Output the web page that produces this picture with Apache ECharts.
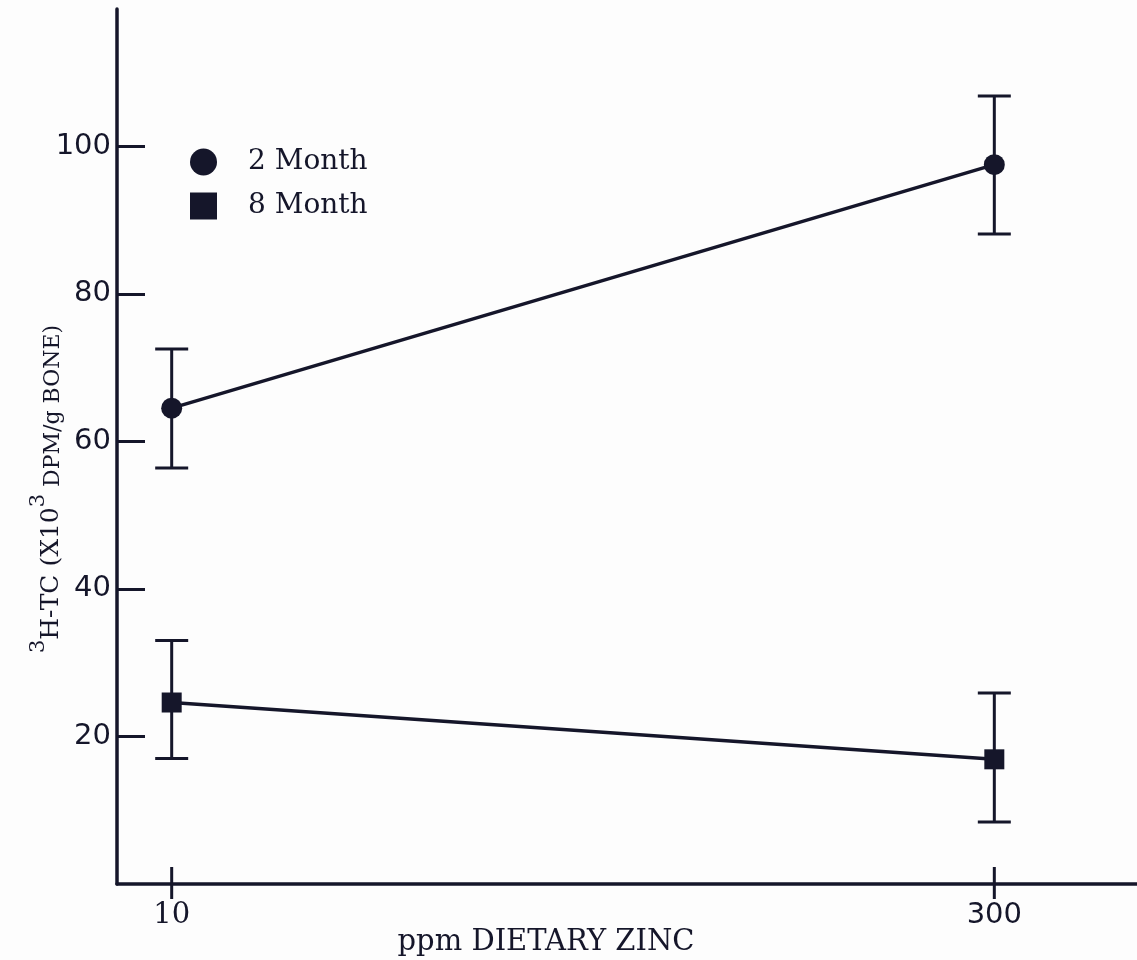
<!DOCTYPE html>
<html>
<head>
<meta charset="utf-8">
<script src="https://cdn.jsdelivr.net/npm/echarts@6/dist/echarts.min.js"></script>
<style>
html,body{margin:0;padding:0;background:#fdfdfd;}
#chart{width:1137px;height:960px;}
</style>
</head>
<body>
<div id="chart"></div>
<script>
// ---- data ----
var zincLevels = [10, 300];                 // ppm dietary zinc
var seriesNames = ['2 Month', '8 Month'];
var month2Mean = [64.5, 97.5];
var month2Low  = [56.4, 88.1];
var month2High = [72.5, 106.8];
var month8Mean = [24.6, 16.9];
var month8Low  = [17.0, 8.4];
var month8High = [33.0, 25.9];
var yTickValues = [20, 40, 60, 80, 100];
var xTickValues = [10, 300];

var ink = '#15162a';

function pairs(xs, ys) { return xs.map(function (x, i) { return [x, ys[i]]; }); }
function triples(xs, lo, hi) { return xs.map(function (x, i) { return [x, lo[i], hi[i]]; }); }

function errorBarRender(params, api) {
  var x = api.value(0), lo = api.value(1), hi = api.value(2);
  var pLo = api.coord([x, lo]), pHi = api.coord([x, hi]);
  var hw = 16.5;
  var st = { stroke: ink, lineWidth: 3 };
  return {
    type: 'group',
    children: [
      { type: 'line', shape: { x1: pHi[0], y1: pHi[1], x2: pLo[0], y2: pLo[1] }, style: st },
      { type: 'line', shape: { x1: pHi[0] - hw, y1: pHi[1], x2: pHi[0] + hw, y2: pHi[1] }, style: st },
      { type: 'line', shape: { x1: pLo[0] - hw, y1: pLo[1], x2: pLo[0] + hw, y2: pLo[1] }, style: st }
    ]
  };
}

// x-axis ticks that cross the axis line (17px above, 15px below), placed by the axis scale
function crossTickRender(params, api) {
  var p = api.coord([api.value(0), api.value(1)]);
  return {
    type: 'line',
    shape: { x1: p[0], y1: p[1] - 17, x2: p[0], y2: p[1] + 15 },
    style: { stroke: ink, lineWidth: 3 }
  };
}

var chart = echarts.init(document.getElementById('chart'), null, { renderer: 'canvas' });

var xMin = -9.28, xMax = 350.3, yMax = 118.6;

var option = {
  backgroundColor: '#fdfdfd',
  animation: false,
  grid: { left: 117, right: 0, top: 9, bottom: 76, containLabel: false, outerBoundsMode: 'none' },
  legend: {
    orient: 'vertical',
    left: 185,
    top: 143,
    itemWidth: 27,
    itemHeight: 27,
    itemGap: 16,
    selectedMode: false,
    data: [
      { name: seriesNames[0], icon: 'circle' },
      { name: seriesNames[1], icon: 'rect' }
    ],
    itemStyle: { color: ink },
    textStyle: {
      fontFamily: 'DejaVu Serif',
      fontSize: 28,
      color: ink,
      lineHeight: 27,
      padding: [0, 0, 0, 26]
    }
  },
  xAxis: {
    type: 'value',
    min: xMin,
    max: xMax,
    position: 'bottom',
    splitLine: { show: false },
    axisLine: { show: true, onZero: false, lineStyle: { color: ink, width: 3.5 } },
    axisTick: { show: false },
    axisLabel: {
      show: true,
      customValues: xTickValues,
      margin: 17,
      color: ink,
      formatter: function (v) { return v === 10 ? '{serif|' + v + '}' : '{sans|' + v + '}'; },
      rich: {
        serif: { fontFamily: 'DejaVu Serif', fontSize: 29, color: ink },
        sans: { fontFamily: 'DejaVu Sans', fontSize: 29, color: ink }
      }
    }
  },
  yAxis: {
    type: 'value',
    min: 0,
    max: yMax,
    splitLine: { show: false },
    axisLine: { show: true, onZero: false, lineStyle: { color: ink, width: 3.5 } },
    axisTick: { show: true, inside: true, length: 28, customValues: yTickValues, lineStyle: { color: ink, width: 3 } },
    axisLabel: {
      show: true,
      customValues: yTickValues,
      margin: 6,
      fontFamily: 'DejaVu Sans',
      fontSize: 29,
      color: ink
    }
  },
  series: [
    {
      name: seriesNames[0],
      type: 'line',
      data: pairs(zincLevels, month2Mean),
      symbol: 'circle',
      symbolSize: 21,
      lineStyle: { color: ink, width: 3.5 },
      itemStyle: { color: ink },
      z: 3
    },
    {
      name: seriesNames[1],
      type: 'line',
      data: pairs(zincLevels, month8Mean),
      symbol: 'rect',
      symbolSize: 20,
      lineStyle: { color: ink, width: 3.5 },
      itemStyle: { color: ink },
      z: 3
    },
    {
      name: seriesNames[0] + ' SE',
      type: 'custom',
      renderItem: errorBarRender,
      encode: { x: 0, y: [1, 2] },
      data: triples(zincLevels, month2Low, month2High),
      z: 2
    },
    {
      name: seriesNames[1] + ' SE',
      type: 'custom',
      renderItem: errorBarRender,
      encode: { x: 0, y: [1, 2] },
      data: triples(zincLevels, month8Low, month8High),
      z: 2
    },
    {
      name: 'x ticks',
      type: 'custom',
      renderItem: crossTickRender,
      encode: { x: 0, y: 1 },
      data: xTickValues.map(function (v) { return [v, 0]; }),
      silent: true,
      clip: false,
      z: 4
    }
  ],
  graphic: [
    {
      type: 'text',
      x: 46,
      y: 489,
      rotation: Math.PI / 2,
      style: {
        text: '{s|3}{m|H-TC (X10}{s|3}{t| DPM/g BONE)}',
        fill: ink,
        align: 'center',
        verticalAlign: 'middle',
        rich: {
          s: { fontFamily: 'DejaVu Serif', fontSize: 21, lineHeight: 21, verticalAlign: 'top', fill: ink },
          m: { fontFamily: 'DejaVu Serif', fontSize: 25, lineHeight: 36, verticalAlign: 'bottom', fill: ink },
          t: { fontFamily: 'DejaVu Serif', fontSize: 22, lineHeight: 25, verticalAlign: 'bottom', fill: ink }
        }
      }
    },
    {
      type: 'text',
      x: 546,
      y: 942,
      style: {
        text: 'ppm DIETARY ZINC',
        fill: ink,
        font: '29px "DejaVu Serif"',
        align: 'center',
        verticalAlign: 'middle'
      }
    }
  ]
};

chart.setOption(option);
</script>
</body>
</html>
